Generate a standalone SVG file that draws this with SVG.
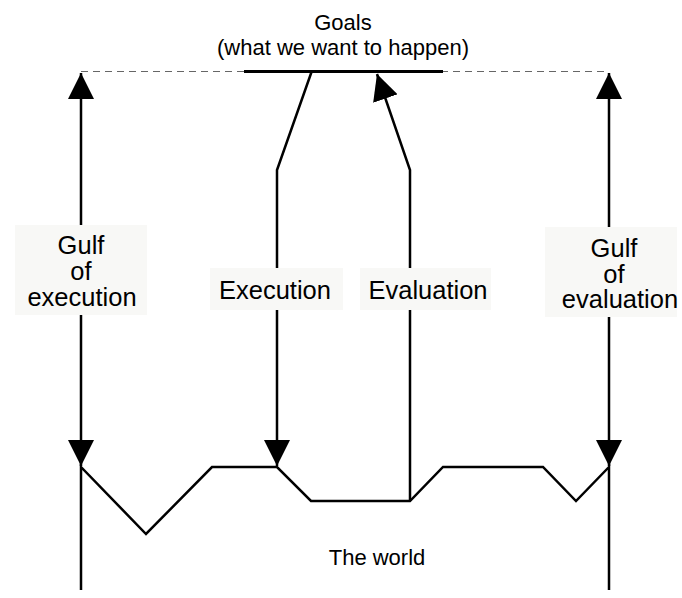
<svg xmlns="http://www.w3.org/2000/svg" width="682" height="598" viewBox="0 0 682 598">
  <style>
    .t { font-family: "Liberation Sans", Arial, sans-serif; font-size: 22px; fill: #000; text-anchor: middle; }
    .lb { font-family: "Liberation Sans", Arial, sans-serif; font-size: 25.5px; fill: #000; text-anchor: middle; }
    .bg { fill: #f8f8f6; }
    .ln { fill: none; stroke: #000; stroke-width: 2.5; stroke-linejoin: miter; }
  </style>
  <defs>
    <marker id="arrow" markerUnits="userSpaceOnUse" markerWidth="26" markerHeight="26" refX="26" refY="13" orient="auto-start-reverse" viewBox="0 0 26 26">
      <path d="M0,0 L26,13 L0,26 z" fill="#000"/>
    </marker>
  </defs>
  <rect width="682" height="598" fill="#fff"/>

  <!-- goals -->
  <g id="goals">
    <line x1="81" y1="71.5" x2="609" y2="71.5" stroke="#666" stroke-width="1.2" stroke-dasharray="7,5"/>
    <line x1="244" y1="71.5" x2="443" y2="71.5" stroke="#000" stroke-width="3"/>
    <text class="t" x="343" y="30">Goals</text>
    <text class="t" x="343" y="55">(what we want to happen)</text>
  </g>

  <!-- the world -->
  <g id="world">
    <polyline class="ln" points="81,590 81,467 146,534 212,467 277,467 311,501 410,501 443,467 543,467 576,501 609,467 609,590"/>
    <text class="t" x="377" y="565">The world</text>
  </g>

  <!-- connectors -->
  <g id="connectors">
    <line class="ln" x1="81" y1="73" x2="81" y2="466" marker-start="url(#arrow)" marker-end="url(#arrow)"/>
    <line class="ln" x1="609" y1="73" x2="609" y2="466" marker-start="url(#arrow)" marker-end="url(#arrow)"/>
    <polyline class="ln" points="311.5,72 277,170 277,466" marker-end="url(#arrow)"/>
    <polyline class="ln" points="410,501 410,170 377,74" marker-end="url(#arrow)"/>
  </g>

  <!-- labels -->
  <g id="gulf-execution">
    <rect class="bg" x="15" y="225" width="132" height="90"/>
    <text class="lb" x="81" y="254">Gulf</text>
    <text class="lb" x="81" y="280">of</text>
    <text class="lb" x="82" y="306">execution</text>
  </g>
  <g id="execution">
    <rect class="bg" x="210" y="268" width="133" height="42"/>
    <text class="lb" x="275" y="299">Execution</text>
  </g>
  <g id="evaluation">
    <rect class="bg" x="360" y="268" width="131" height="42"/>
    <text class="lb" x="428" y="299">Evaluation</text>
  </g>
  <g id="gulf-evaluation">
    <rect class="bg" x="545" y="227" width="132" height="90"/>
    <text class="lb" x="614" y="257">Gulf</text>
    <text class="lb" x="614" y="283">of</text>
    <text class="lb" x="620" y="308">evaluation</text>
  </g>
</svg>
